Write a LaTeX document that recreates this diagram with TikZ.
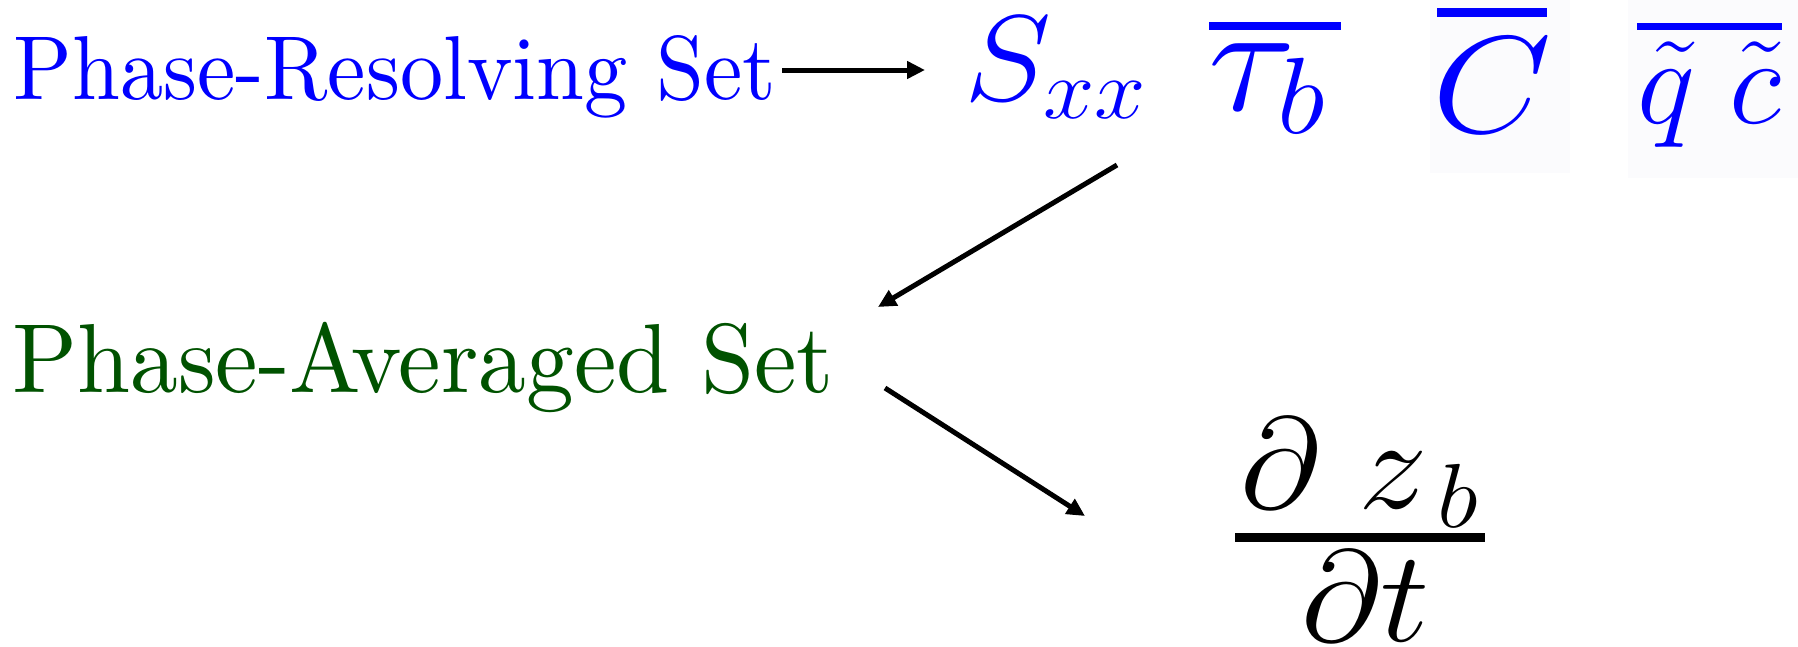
\RequirePackage{fix-cm}
\documentclass[tikz,border=0pt]{standalone}
\usetikzlibrary{arrows.meta}
\usepackage{graphicx}
\definecolor{pblue}{RGB}{0,0,255}
\definecolor{pgreen}{RGB}{0,82,0}
\definecolor{faint}{RGB}{251,251,253}
\newcommand{\fsz}[1]{\fontsize{#1}{#1}\selectfont}
\newcommand{\bigtxt}[3]{\scalebox{#1}[#2]{\fontsize{10}{12}\selectfont #3}}
\newcommand{\bigmath}[3]{\scalebox{#1}[1]{\fsz{#2}$#3$}}
\tikzset{
  arr/.style={line width=5pt,-{Triangle[length=18pt,width=17pt]}},
  lbl/.style={inner sep=0pt, anchor=base west},
}
\begin{document}
\begin{tikzpicture}[x=1pt,y=-1pt]
\useasboundingbox (0,0) rectangle (1798,646);
% faint pasted backgrounds
\fill[faint] (1430,0) rectangle (1570,173);
\fill[faint] (1628,0) rectangle (1798,178);
% labels
\node[lbl, text=pblue] (prs) at (13.5,99) {\bigtxt{8.62}{9.08}{Phase-Resolving Set}};
\node[lbl, text=pgreen] (pas) at (12,392.5) {\bigtxt{9.55}{9.81}{Phase-Averaged Set}};
% blue quantities
\node[lbl, text=pblue] (sxx) at (964,100) {\bigmath{1.08}{122}{S_{xx}}};
\node[lbl, text=pblue] (tau) at (1208,110) {\bigmath{1.05}{155}{\tau_b}};
\node[lbl, text=pblue] (cbar) at (1432,132) {\bigmath{1.12}{138}{C}};
\node[lbl, text=pblue] (qc) at (1637,123) {\bigmath{1.0}{123}{\tilde q\;\tilde c}};
\fill[pblue] (1209,22) rectangle (1341,30);
\fill[pblue] (1437,8) rectangle (1547,17);
\fill[pblue] (1637,23) rectangle (1782,30);
% fraction
\node[lbl] (num) at (1240,508) {\bigmath{1.07}{130}{\partial\;z_{\mkern3mu b}}};
\node[lbl] (den) at (1301,641) {\bigmath{1.07}{130}{\partial t}};
\fill (1235,533) rectangle (1485,542);
% connectors
\coordinate (a1s) at (782,70);
\coordinate (a1e) at (925,70);
\coordinate (a2s) at (1117,165);
\coordinate (a2e) at (878,307);
\coordinate (a3s) at (885,388);
\coordinate (a3e) at (1085,516);
\draw[arr] (a1s) -- (a1e);
\draw[arr] (a2s) -- (a2e);
\draw[arr] (a3s) -- (a3e);
\end{tikzpicture}
\end{document}
